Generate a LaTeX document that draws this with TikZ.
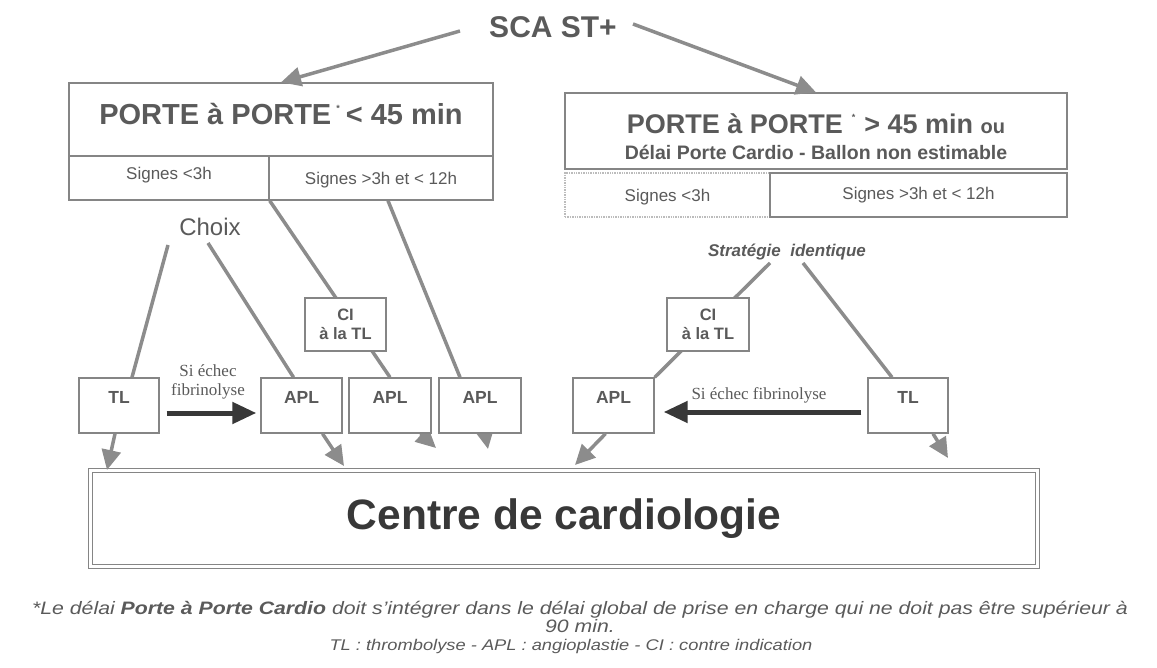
\documentclass[tikz,border=0pt]{standalone}
\usepackage{fontspec}
\setmainfont{Liberation Sans}
\newfontfamily\seriffam{Liberation Serif}
\usetikzlibrary{arrows.meta,backgrounds}
\definecolor{txtgray}{HTML}{5A5A5A}
\definecolor{linegray}{HTML}{8C8C8C}
\definecolor{boxgray}{HTML}{858585}
\definecolor{darkarrow}{HTML}{383838}
\newcommand{\fs}[1]{\fontsize{#1}{#1}\selectfont}
\newcommand{\etoile}{\raisebox{13pt}{\fs{9}*}}
\begin{document}
\begin{tikzpicture}[
      x=1pt,y=-1pt,
      box/.style={
        draw=boxgray,line width=1.4pt,fill=white,inner sep=0pt,
        text=txtgray,font=\bfseries\fs{17.5}
      },
      smallbox/.style={
        box,minimum height=55pt,text depth=16pt,text height=12.5pt
      },
      cibox/.style={
        box,minimum height=53pt,align=center,font=\bfseries\fs{16.5}
      },
      signes/.style={box,minimum height=44pt,font=\fs{17}},
      flow/.style={draw=linegray,line width=3.5pt},
      flowarrow/.style={flow,-{Triangle[length=20pt,width=19pt]}},
      fail/.style={draw=darkarrow,line width=5pt,-{Triangle[length=24pt,width=21pt]}},
      label/.style={text=txtgray,inner sep=0pt},
    ]
    \useasboundingbox (0,0) rectangle (1157,668);
    \node[label,font=\bfseries\fs{30}] (sca) at (553,27) {SCA ST+};
    \coordinate (scaL) at (460,31);
    \coordinate (scaR) at (633,24);

    \node[box,minimum width=424pt,minimum height=73pt,text depth=12pt,font=\bfseries\fs{29}] (porteA) at (281,119.5)
      {PORTE à PORTE\hspace{5pt}\etoile\hspace{6pt}< 45 min};
    \node[signes,minimum width=200pt,text depth=10pt] (signesA1) at (169,178) {Signes <3h};
    \node[signes,minimum width=224pt,text height=16pt] (signesA2) at (381,178) {Signes >3h et < 12h};

    \node[box,minimum width=502pt,minimum height=76pt,align=center] (porteB) at (816,131)
      {{\rule{0pt}{31pt}\fs{27}PORTE à PORTE\hspace{9pt}\etoile\hspace{9pt}> 45 min {\fs{20}ou}}\\[8pt]
       {\fs{19.5}Délai Porte Cardio - Ballon non estimable}};
    \node[signes,draw=boxgray!55,densely dotted,minimum width=205pt,text height=17pt] (signesB1) at (667.5,195) {Signes <3h};
    \node[signes,minimum width=297pt] (signesB2) at (918.5,195) {Signes >3h et < 12h};

    \node[label,font=\fs{24}] (choix) at (210,227) {Choix};
    \coordinate (choixL) at (168,245);
    \coordinate (choixR) at (208,243);
    \node[label,font=\bfseries\itshape\fs{17}] (strat) at (787,252) {Stratégie\ \ identique};
    \coordinate (stratL) at (770,263);
    \coordinate (stratR) at (803,263);

    \node[smallbox,minimum width=80pt] (tlA) at (119,405.5) {TL};
    \node[smallbox,minimum width=81pt] (aplA1) at (301.5,405.5) {APL};
    \node[smallbox,minimum width=82pt] (aplA2) at (390,405.5) {APL};
    \node[smallbox,minimum width=82pt] (aplA3) at (480,405.5) {APL};
    \node[cibox,minimum width=81pt] (ciA) at (345.5,324.5) {CI\\[3pt]à la TL};

    \node[cibox,minimum width=82pt] (ciB) at (708,324.5) {CI\\[3pt]à la TL};
    \node[smallbox,minimum width=81pt] (aplB) at (613.5,405.5) {APL};
    \node[smallbox,minimum width=80pt] (tlB) at (908,405.5) {TL};

    \node[label,font=\seriffam\fs{17},align=center] (echecA) at (208,382) {Si échec\\[2pt]fibrinolyse};
    \node[label,font=\seriffam\fs{17}] (echecB) at (759,395) {Si échec fibrinolyse};

    \node[box,minimum width=947pt,minimum height=96pt,double=white,double distance=2.5pt,
      line width=1.6pt,text=black!78,font=\bfseries\fs{42.5}] (centre) at (564,518.5) {Centre de cardiologie};
    \coordinate (dTL) at (107,470);
    \coordinate (dA1) at (344,466);
    \coordinate (dA2) at (436,448);
    \coordinate (dA3) at (488,449);
    \coordinate (dB1) at (575,465);
    \coordinate (dB2) at (948,458);

    \node[label,font=\itshape\fs{18},align=center] (note) at (580,617)
      {\scalebox{1.18}[1]{*Le délai \textbf{Porte à Porte Cardio} doit s'intégrer dans le délai global de prise en charge qui ne doit pas être supérieur à}\\[0pt]
       \scalebox{1.18}[1]{90 min.}};
    \node[label,font=\itshape\fs{15.5}] (legende) at (571,646)
      {\scalebox{1.18}[1]{TL : thrombolyse - APL : angioplastie - CI : contre indication}};

    \draw[flowarrow] (scaL) -- (porteA.north);
    \draw[flowarrow] (scaR) -- (porteB.north);
    \begin{scope}[on background layer]
      \draw[flow] (choixL) -- ([xshift=13pt]tlA.north);
      \draw[flow] (choixR) -- ([xshift=-8pt]aplA1.north);
      \draw[flow] (signesA1.south east) -- (aplA2.north);
      \draw[flow] ([xshift=7pt]signesA2.south) -- ([xshift=-20pt]aplA3.north);
      \draw[flow] (stratL) -- (aplB.north east);
      \draw[flow] (stratR) -- ([xshift=-16pt]tlB.north);
      \draw[flowarrow] (aplA2) -- (dA2);
      \draw[flowarrow] (aplA3) -- (dA3);
    \end{scope}
    \draw[flowarrow] ([xshift=-4pt]tlA.south) -- (dTL);
    \draw[flowarrow] ([xshift=21pt]aplA1.south) -- (dA1);
    \draw[flowarrow] ([xshift=-8pt]aplB.south) -- (dB1);
    \draw[flowarrow] ([xshift=25pt]tlB.south) -- (dB2);
    \draw[fail,shorten <=7pt,shorten >=4pt] ([yshift=-7.5pt]tlA.east) -- ([yshift=-7.5pt]aplA1.west);
    \draw[fail,shorten <=6pt,shorten >=9pt] ([yshift=-6.5pt]tlB.west) -- ([yshift=-6.5pt]aplB.east);
  \end{tikzpicture}
\end{document}
